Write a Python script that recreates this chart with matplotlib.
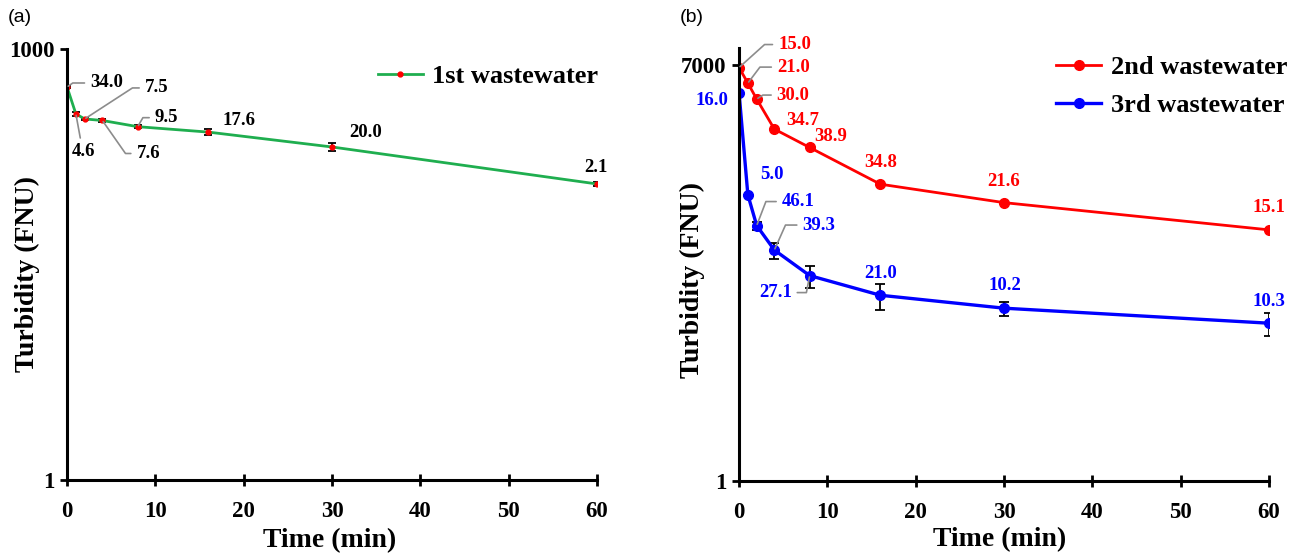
import matplotlib
matplotlib.use('Agg')
from matplotlib import pyplot as plt
from matplotlib.lines import Line2D
from matplotlib.ticker import FixedLocator, NullLocator

plt.rcParams['font.family'] = ['Liberation Serif', 'DejaVu Serif']
plt.rcParams['font.weight'] = 'bold'

# time points (min)
time = [0, 1, 2, 4, 8, 16, 30, 60]

# (a) 1st wastewater
ww1 = [544, 353, 326, 318, 288, 264, 208, 115]
ww1_err = [10, 9, 7, 7, 8, 13, 14, 3]
ww1_labels = ['34.0', '4.6', '7.5', '7.6', '9.5', '17.6', '20.0', '2.1']

# (b) 2nd and 3rd wastewater
ww2 = [6600, 4740, 3375, 1782, 1205, 552, 373, 209]
ww2_err = [0, 0, 0, 0, 0, 0, 0, 0]
ww2_labels = ['15.0', '21.0', '30.0', '34.7', '38.9', '34.8', '21.6', '15.1']

ww3 = [3880, 440, 229, 136, 79, 52, 39.5, 28.7]
ww3_err = [0, 0, 20, 23, 18, 14, 6, 7]
ww3_labels = ['16.0', '5.0', '46.1', '39.3', '27.1', '21.0', '10.2', '10.3']

PX = 0.72  # pixel -> point at dpi 100
GREY = '#8c8c8c'


def put_label(ax, x, y, txt, color, dx, dy, ha='center', leader=None, relpos=(0, 0.5)):
    kw = {}
    if leader is not None:
        if leader == 'straight':
            cs = 'arc3'
        else:
            cs = 'angle,angleA=0,angleB={}'.format(leader)
        kw['arrowprops'] = dict(arrowstyle='-', color=GREY, lw=1.2,
                                connectionstyle=cs, relpos=relpos,
                                shrinkA=2, shrinkB=1)
    ax.annotate(txt, xy=(x, y), xytext=(dx * PX, dy * PX),
                textcoords='offset points', ha=ha, va='center',
                color=color, fontsize=13.5, fontweight='bold', **kw)


def style_axis(ax, ytop, ytick):
    ax.set_yscale('log')
    ax.set_ylim(1, ytop)
    ax.set_xlim(0, 60)
    ax.yaxis.set_major_locator(FixedLocator([1, ytick]))
    ax.yaxis.set_minor_locator(NullLocator())
    ax.set_yticklabels(['1', str(ytick)])
    ax.set_xticks(range(0, 61, 10))
    for s in ['top', 'right']:
        ax.spines[s].set_visible(False)
    for s in ['left', 'bottom']:
        ax.spines[s].set_linewidth(2.2)
    ax.tick_params(axis='x', direction='inout', length=8, width=2, labelsize=16.5, pad=11)
    ax.tick_params(axis='y', direction='out', length=5, width=2, labelsize=16.5, pad=4)
    for lab in ax.get_xticklabels() + ax.get_yticklabels():
        lab.set_fontweight('bold')


fig = plt.figure(figsize=(12.97, 5.55), dpi=100)
ax1 = fig.add_axes([0.0517, 0.1351, 0.4086, 0.7766])
ax2 = fig.add_axes([0.5698, 0.1333, 0.4086, 0.7802])

# ---- panel (a)
ax1.errorbar(time, ww1, yerr=ww1_err, color='#1fae4f', lw=2, marker='o',
             markersize=3.5, markerfacecolor='red', markeredgecolor='red',
             ecolor='black', elinewidth=1.3, capsize=3, capthick=1.3)
style_axis(ax1, 1000, 1000)

a_pos = [(23, 4, 'left', 35, (0, 0.5)),
         (-4, -38, 'left', 'straight', (0.4, 1)),
         (60, 31, 'left', 33, (0, 0.5)),
         (34, -33, 'left', -55, (0, 0.5)),
         (17, 9, 'left', 60, (0, 0.5)),
         (14, 12, 'left', None, None),
         (17, 14, 'left', None, None),
         (-1, 16, 'center', None, None)]
for t, v, s, (dx, dy, ha, ld, rp) in zip(time, ww1, ww1_labels, a_pos):
    put_label(ax1, t, v, s, 'black', dx, dy, ha=ha, leader=ld, relpos=rp)

ax1.set_ylabel('Turbidity (FNU)', fontsize=20, fontweight='bold')
ax1.yaxis.set_label_coords(-0.051, 0.478)
ax1.set_xlabel('Time (min)', fontsize=20, fontweight='bold')
ax1.xaxis.set_label_coords(0.496, -0.112)
h1 = [Line2D([], [], color='#1fae4f', lw=2, marker='o', markersize=3.5,
             markerfacecolor='red', markeredgecolor='red')]
ax1.legend(h1, ['1st wastewater'], loc='center right', bbox_to_anchor=(1.002, 0.937),
           frameon=False, fontsize=19, handlelength=1.7, handletextpad=0.35,
           borderaxespad=0, borderpad=0)

# ---- panel (b)
ax2.errorbar(time, ww2, yerr=ww2_err, color='red', lw=2, marker='o',
             markersize=7, ecolor='black', elinewidth=1.3, capsize=3,
             capthick=1.3)
ax2.errorbar(time, ww3, yerr=ww3_err, color='blue', lw=2.4, marker='o',
             markersize=7, ecolor='black', elinewidth=1.3, capsize=3.5,
             capthick=1.3)
style_axis(ax2, 10000, 7000)

red_pos = [(39, 23, 'left', 42, (0, 0.5)),
           (29, 16, 'left', 53, (0, 0.5)),
           (20, 4, 'left', 33, (0, 0.5)),
           (12, 9, 'left', None, None),
           (5, 11, 'left', None, None),
           (0, 22, 'center', None, None),
           (0, 21, 'center', None, None),
           (0, 22, 'center', None, None)]
for t, v, s, (dx, dy, ha, ld, rp) in zip(time, ww2, ww2_labels, red_pos):
    put_label(ax2, t, v, s, 'red', dx, dy, ha=ha, leader=ld, relpos=rp)

blue_pos = [(-11, -8, 'right', None, None),
            (12, 20, 'left', None, None),
            (25, 24, 'left', 69, (0, 0.5)),
            (28, 25, 'left', 66, (0, 0.5)),
            (-18, -17, 'right', 79, (1, 0.5)),
            (0, 22, 'center', None, None),
            (1, 23, 'center', None, None),
            (0, 22, 'center', None, None)]
for t, v, s, (dx, dy, ha, ld, rp) in zip(time, ww3, ww3_labels, blue_pos):
    put_label(ax2, t, v, s, 'blue', dx, dy, ha=ha, leader=ld, relpos=rp)

ax2.set_ylabel('Turbidity (FNU)', fontsize=20, fontweight='bold')
ax2.yaxis.set_label_coords(-0.064, 0.464)
ax2.set_xlabel('Time (min)', fontsize=20, fontweight='bold')
ax2.xaxis.set_label_coords(0.492, -0.106)
h2 = [Line2D([], [], color='red', lw=2, marker='o', markersize=7),
      Line2D([], [], color='blue', lw=2.4, marker='o', markersize=7)]
ax2.legend(h2, ['2nd wastewater', '3rd wastewater'], loc='center right',
           bbox_to_anchor=(1.034, 0.912), frameon=False, fontsize=19,
           handlelength=1.7, handletextpad=0.35, labelspacing=0.55,
           borderaxespad=0, borderpad=0)

fig.text(8 / 1297, 1 - 17 / 555, '(a)', fontsize=14, fontweight='normal',
         family='Liberation Sans', va='center', ha='left')
fig.text(680 / 1297, 1 - 17 / 555, '(b)', fontsize=14, fontweight='normal',
         family='Liberation Sans', va='center', ha='left')

plt.savefig('out.png', dpi=100)
plt.close()
